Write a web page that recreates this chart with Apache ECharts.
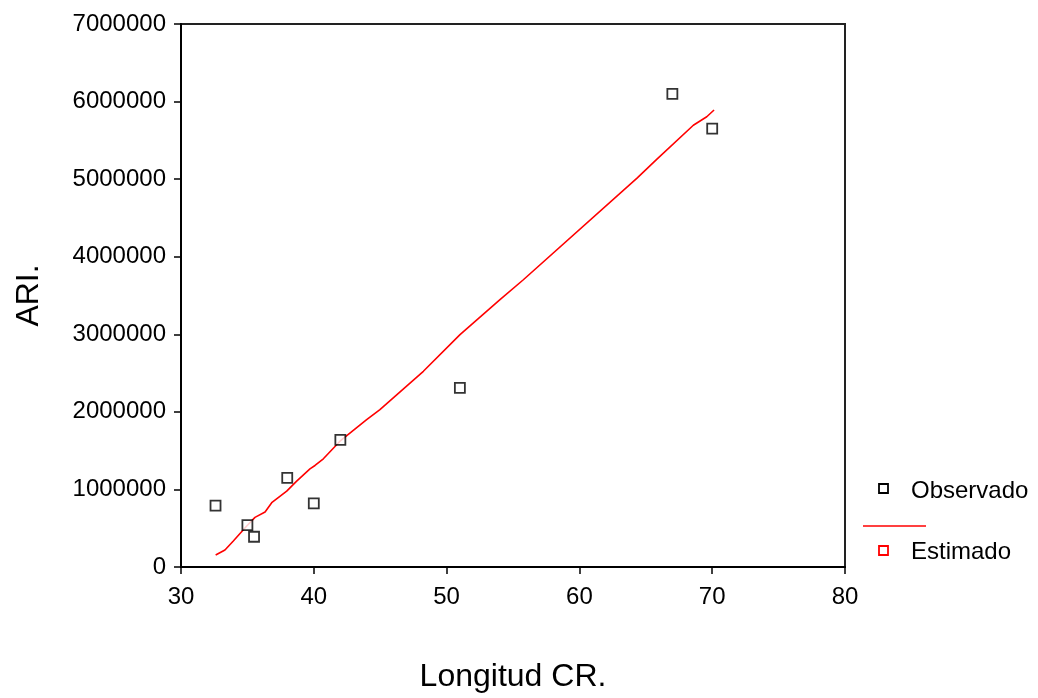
<!DOCTYPE html>
<html>
<head>
<meta charset="utf-8">
<script src="https://cdn.jsdelivr.net/npm/echarts@6/dist/echarts.min.js"></script>
<style>
html,body{margin:0;padding:0;background:#fff;}
#chart{width:1038px;height:698px;}
</style>
</head>
<body>
<div id="chart"></div>
<script>
// Observed data
var obsX = [32.6, 35.0, 35.5, 38.0, 40.0, 42.0, 51.0, 67.0, 70.0];
var obsY = [790000, 540000, 390000, 1150000, 820000, 1640000, 2310000, 6100000, 5650000];
// Estimated curve
var estX = [32.61, 33.31, 33.94, 34.95, 35.57, 36.33, 36.83, 37.96, 38.71, 39.71, 40.09, 40.72, 41.97, 43.98, 44.98, 48.25, 51.01, 54.02, 55.78, 64.34, 65.82, 68.58, 69.59, 70.14];
var estY = [154000, 219000, 335000, 528000, 640000, 708000, 829000, 978000, 1107000, 1266000, 1309000, 1395000, 1622000, 1901000, 2030000, 2523000, 2995000, 3446000, 3703000, 5013000, 5254000, 5695000, 5804000, 5891000];
// Axis ticks
var xTicks = {min: 30, max: 80, interval: 10};
var yTicks = {min: 0, max: 7000000, interval: 1000000};
var legendNames = ['Observado', 'Estimado'];
var xTitle = 'Longitud CR.';
var yTitle = 'ARI.';

var font = '"Liberation Sans", Arial, sans-serif';
var chart = echarts.init(document.getElementById('chart'), null, {renderer: 'canvas'});

var obsData = obsX.map(function (x, i) { return [x, obsY[i]]; });
var estData = estX.map(function (x, i) { return [x, estY[i]]; });

chart.setOption({
  animation: false,
  backgroundColor: '#ffffff',
  grid: {
    left: 181, right: 193, top: 24, bottom: 130,
    show: true, borderColor: '#222', borderWidth: 2, backgroundColor: '#fff'
  },
  xAxis: {
    type: 'value',
    min: xTicks.min, max: xTicks.max, interval: xTicks.interval,
    name: xTitle, nameLocation: 'middle', nameGap: 94,
    nameTextStyle: {fontFamily: font, fontSize: 32, color: '#000'},
    axisLine: {show: true, onZero: false, lineStyle: {color: '#000', width: 2}},
    axisTick: {show: true, inside: false, length: 7, lineStyle: {color: '#000', width: 1.5}},
    axisLabel: {fontFamily: font, fontSize: 24, color: '#000', margin: 18},
    splitLine: {show: false}
  },
  yAxis: {
    type: 'value',
    min: yTicks.min, max: yTicks.max, interval: yTicks.interval,
    name: yTitle, nameLocation: 'middle', nameGap: 136, nameRotate: 90,
    nameTextStyle: {fontFamily: font, fontSize: 32, color: '#000'},
    axisLine: {show: true, onZero: false, lineStyle: {color: '#000', width: 2}},
    axisTick: {show: true, inside: false, length: 7, lineStyle: {color: '#000', width: 1.5}},
    axisLabel: {fontFamily: font, fontSize: 24, color: '#000', margin: 15,
      formatter: function (v) { return String(v); }},
    splitLine: {show: false}
  },
  series: [
    {
      name: legendNames[1],
      type: 'line',
      data: estData,
      showSymbol: false,
      symbol: 'none',
      smooth: false,
      lineStyle: {color: '#ff0000', width: 1.6},
      z: 2
    },
    {
      name: legendNames[0],
      type: 'scatter',
      data: obsData,
      symbol: 'rect',
      symbolSize: 10,
      itemStyle: {color: '#ffffff', borderColor: '#000', borderWidth: 1.8},
      z: 3
    }
  ],
  graphic: [
    {type: 'rect', shape: {x: 879, y: 484, width: 9, height: 9}, style: {fill: '#fff', stroke: '#000', lineWidth: 1.8}},
    {type: 'text', left: 911, top: 479, style: {text: legendNames[0], font: '24px ' + font, fill: '#000'}},
    {type: 'line', shape: {x1: 863, y1: 526, x2: 926, y2: 526}, style: {stroke: '#ff0000', lineWidth: 1.6}},
    {type: 'rect', shape: {x: 879, y: 546, width: 9, height: 9}, style: {fill: '#fff', stroke: '#ff0000', lineWidth: 1.8}},
    {type: 'text', left: 911, top: 540, style: {text: legendNames[1], font: '24px ' + font, fill: '#000'}}
  ]
});
</script>
</body>
</html>
